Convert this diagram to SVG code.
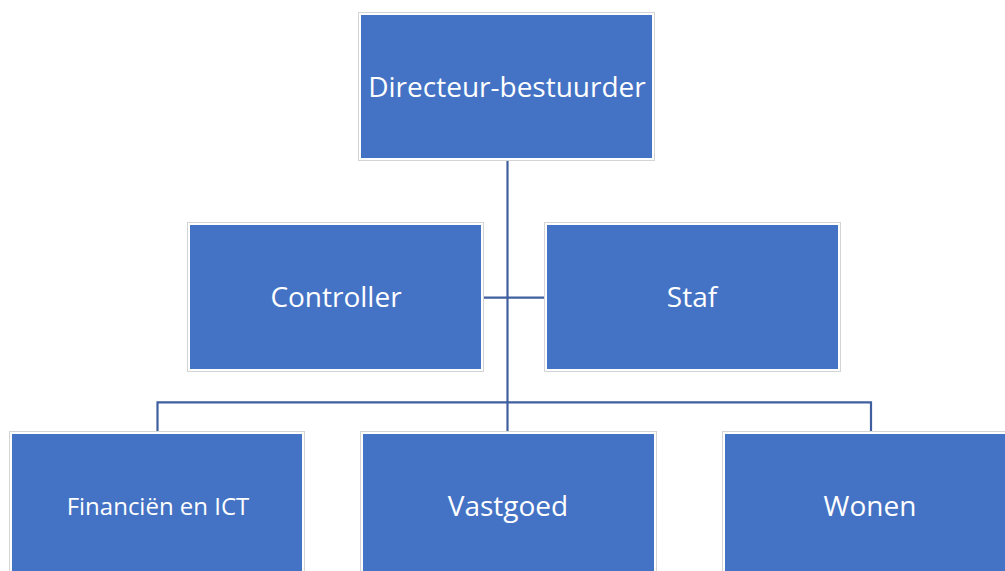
<svg xmlns="http://www.w3.org/2000/svg" width="1005" height="571" viewBox="0 0 1005 571">
<style>
.box{fill:#4472C4;stroke:#ffffff;stroke-width:2}
.edge{fill:none;stroke:#d4d4d4;stroke-width:1}
.lbl{font-family:"Open Sans","Noto Sans",sans-serif;fill:#ffffff;text-anchor:middle;dominant-baseline:central;font-size:28px}
.conn{fill:none;stroke:#3F5F9F;stroke-width:2.2}
</style>
<rect width="1005" height="571" fill="#ffffff"/>
<g id="connectors">
<path class="conn" d="M507.5 161V432"/>
<path class="conn" d="M484 297.7H544"/>
<path class="conn" d="M157.5 432V402.3H871V432"/>
</g>
<g id="n-directeur">
<rect class="edge" x="358.5" y="12.5" width="296" height="148"/>
<rect class="box" x="360" y="14" width="293" height="145"/>
<text class="lbl" x="507" y="86">Directeur-bestuurder</text>
</g>
<g id="n-controller">
<rect class="edge" x="187.5" y="222.5" width="296" height="149"/>
<rect class="box" x="189" y="224" width="293" height="146"/>
<text class="lbl" x="336" y="296">Controller</text>
</g>
<g id="n-staf">
<rect class="edge" x="544.5" y="222.5" width="296" height="149"/>
<rect class="box" x="546" y="224" width="293" height="146"/>
<text class="lbl" x="692" y="296">Staf</text>
</g>
<g id="n-financien">
<rect class="edge" x="9.5" y="431.5" width="295" height="150"/>
<rect class="box" x="11" y="433" width="292" height="150"/>
<text class="lbl" x="158" y="505" style="font-size:24px">Financiën en ICT</text>
</g>
<g id="n-vastgoed">
<rect class="edge" x="360.5" y="431.5" width="296" height="150"/>
<rect class="box" x="362" y="433" width="293" height="150"/>
<text class="lbl" x="508" y="505">Vastgoed</text>
</g>
<g id="n-wonen">
<rect class="edge" x="722.5" y="431.5" width="296" height="150"/>
<rect class="box" x="724" y="433" width="293" height="150"/>
<text class="lbl" x="870" y="505">Wonen</text>
</g>
</svg>
